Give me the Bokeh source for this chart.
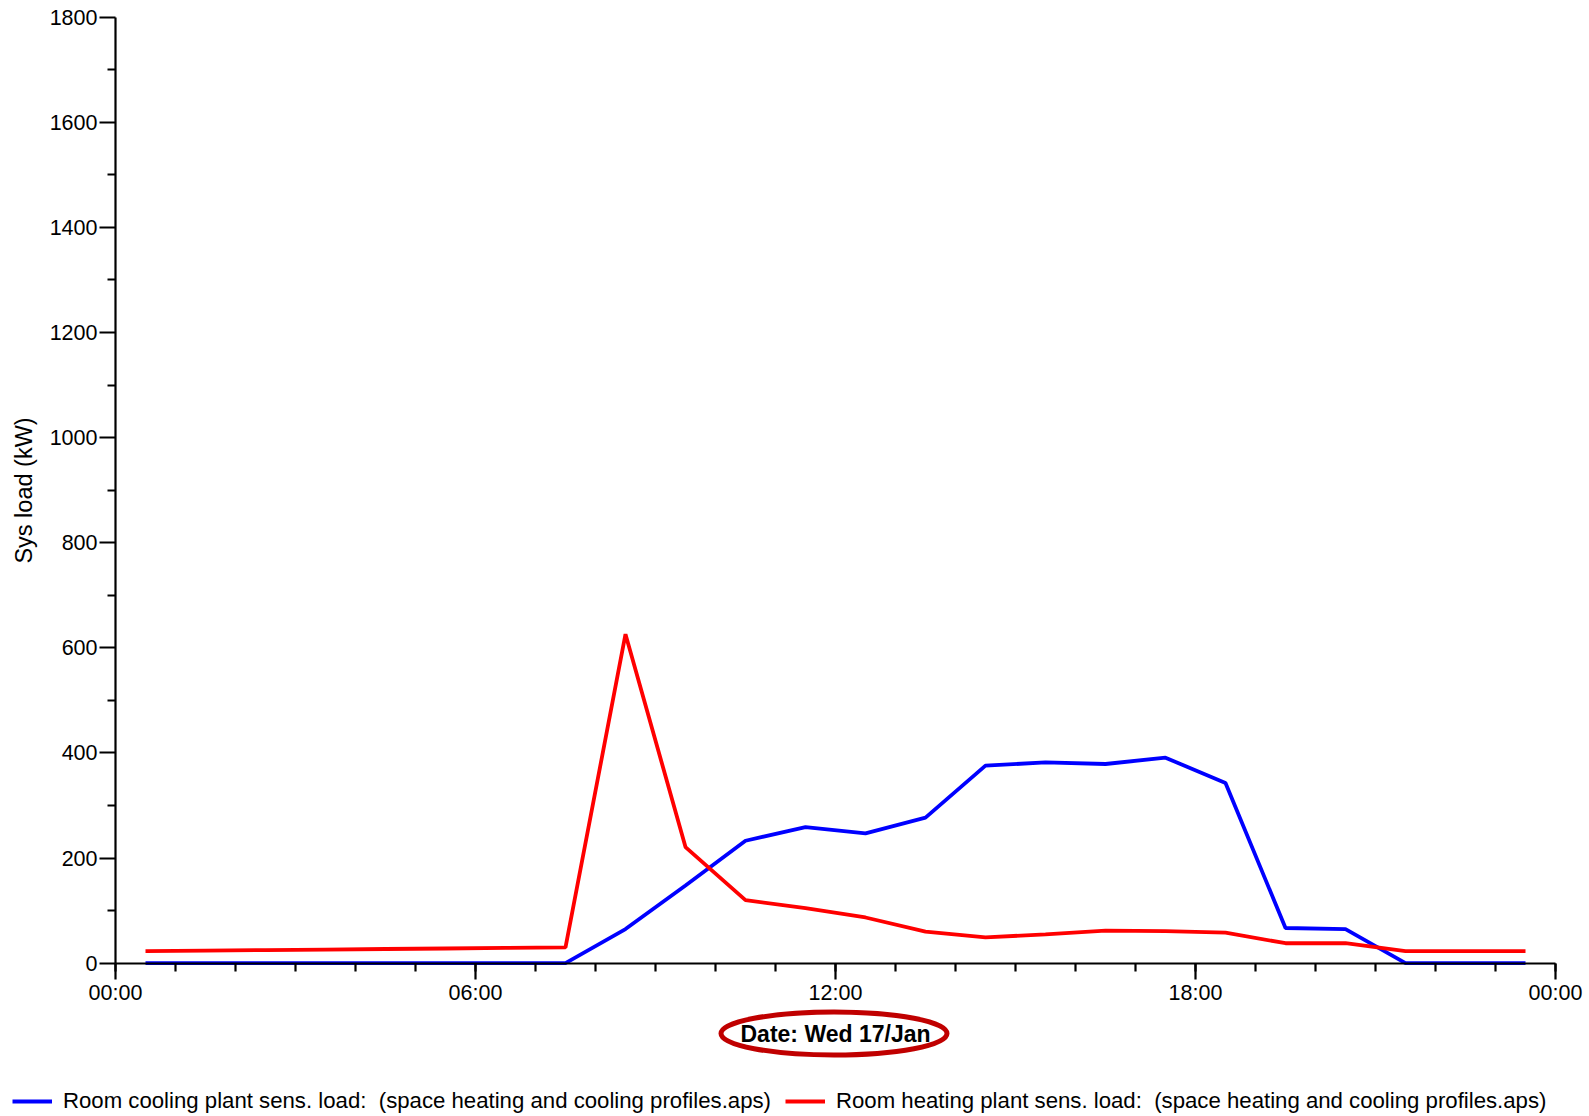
from bokeh.plotting import figure
from bokeh.models import Range1d, FixedTicker, Legend, LegendItem
from bokeh.embed import file_html
from bokeh.resources import INLINE

# ---- data ----
hours = [0.5, 1.5, 2.5, 3.5, 4.5, 5.5, 6.5, 7.5, 8.5, 9.5, 10.5, 11.5,
         12.5, 13.5, 14.5, 15.5, 16.5, 17.5, 18.5, 19.5, 20.5, 21.5, 22.5, 23.5]
cooling_load = [0, 0, 0, 0, 0, 0, 0, 0, 65, 148, 233, 259,
                247, 277, 376, 382, 379, 391, 343, 67, 65, 0, 0, 0]
heating_load = [23, 24, 25, 26, 27, 28, 29, 30, 626, 221, 120, 105,
                87, 60, 49, 55, 62, 61, 58, 38, 38, 23, 23, 23]
x_tick_values = [0, 6, 12, 18, 24]
x_tick_labels = ["00:00", "06:00", "12:00", "18:00", "00:00"]
y_tick_values = [0, 200, 400, 600, 800, 1000, 1200, 1400, 1600, 1800]
cooling_label = "Room cooling plant sens. load:  (space heating and cooling profiles.aps)"
heating_label = "Room heating plant sens. load:  (space heating and cooling profiles.aps)"
date_label = "Date: Wed 17/Jan"
y_label = "Sys load (kW)"

FONT = "Liberation Sans"

# ---- layout (pixels) ----
W, H = 1588, 1114
X0_PX, X24_PX = 115.0, 1555.0      # where 00:00 and 24:00 fall
Y0_PX, Y1800_PX = 962.7, 16.7      # where 0 and 1800 kW fall
px_per_h = (X24_PX - X0_PX) / 24.0
px_per_kw = (Y0_PX - Y1800_PX) / 1800.0
x_start = -X0_PX / px_per_h
x_end = x_start + W / px_per_h
y_end = 1800 + Y1800_PX / px_per_kw
y_start = y_end - H / px_per_kw

p = figure(width=W, height=H,
           x_range=Range1d(x_start, x_end), y_range=Range1d(y_start, y_end),
           output_backend="svg", toolbar_location=None,
           min_border=0, min_border_left=0, min_border_right=0,
           min_border_top=0, min_border_bottom=0)
p.title.visible = False
p.outline_line_color = None
p.xgrid.visible = False
p.ygrid.visible = False
p.background_fill_color = "white"
p.border_fill_color = "white"

r_cool = p.line(hours, cooling_load, line_color="#0000FF", line_width=3.8)
r_heat = p.line(hours, heating_load, line_color="#FF0000", line_width=3.8)

# x axis
xa = p.xaxis[0]
xa.fixed_location = 0
xa.bounds = (0, 24)
xa.ticker = FixedTicker(ticks=x_tick_values, minor_ticks=list(range(0, 25)))
xa.major_label_overrides = {v: l for v, l in zip(x_tick_values, x_tick_labels)}
xa.axis_label = date_label
xa.axis_label_text_font = FONT
xa.axis_label_text_font_style = "bold"
xa.axis_label_text_font_size = "23px"
xa.axis_label_text_color = "black"
xa.axis_label_standoff = 12
xa.major_label_text_font = FONT
xa.major_label_text_font_size = "21.5px"
xa.major_label_text_color = "black"
xa.major_label_standoff = 2
xa.major_tick_out = 16
xa.major_tick_in = 0
xa.minor_tick_out = 8
xa.minor_tick_in = 0
xa.axis_line_width = 2.2
xa.major_tick_line_width = 2.2
xa.minor_tick_line_width = 2.2
xa.axis_line_color = "black"
xa.major_tick_line_color = "black"
xa.minor_tick_line_color = "black"

# y axis
ya = p.yaxis[0]
ya.fixed_location = 0
ya.bounds = (0, 1800)
ya.ticker = FixedTicker(ticks=y_tick_values,
                        minor_ticks=[v + 100 for v in y_tick_values[:-1]])
ya.axis_label = y_label
ya.axis_label_text_font = FONT
ya.axis_label_text_font_style = "normal"
ya.axis_label_text_font_size = "23.5px"
ya.axis_label_text_color = "black"
ya.axis_label_standoff = 10
ya.major_label_text_font = FONT
ya.major_label_text_font_size = "21.5px"
ya.major_label_text_color = "black"
ya.major_label_standoff = 2
ya.major_tick_out = 16
ya.major_tick_in = 0
ya.minor_tick_out = 8
ya.minor_tick_in = 0
ya.axis_line_width = 2.2
ya.major_tick_line_width = 2.2
ya.minor_tick_line_width = 2.2
ya.axis_line_color = "black"
ya.major_tick_line_color = "black"
ya.minor_tick_line_color = "black"

# ellipse around the date label (decoration)
ell_cx = (833.5 - X0_PX) / px_per_h
ell_cy = -(1033.0 - Y0_PX) / px_per_kw
p.ellipse(x=[ell_cx], y=[ell_cy], width=226, height=43,
          width_units="screen", height_units="screen",
          fill_alpha=0, line_color="#C00000", line_width=5)

legend = Legend(items=[LegendItem(label=cooling_label, renderers=[r_cool]),
                       LegendItem(label=heating_label, renderers=[r_heat])],
                orientation="horizontal", location=(12, 0),
                glyph_width=40, glyph_height=20, label_standoff=11,
                spacing=14, padding=0, margin=0,
                border_line_alpha=0, background_fill_alpha=0,
                label_text_font=FONT, label_text_font_size="22.2px",
                label_text_color="black", label_height=20)
p.add_layout(legend)

open("out.html", "w").write(file_html(p, INLINE))
